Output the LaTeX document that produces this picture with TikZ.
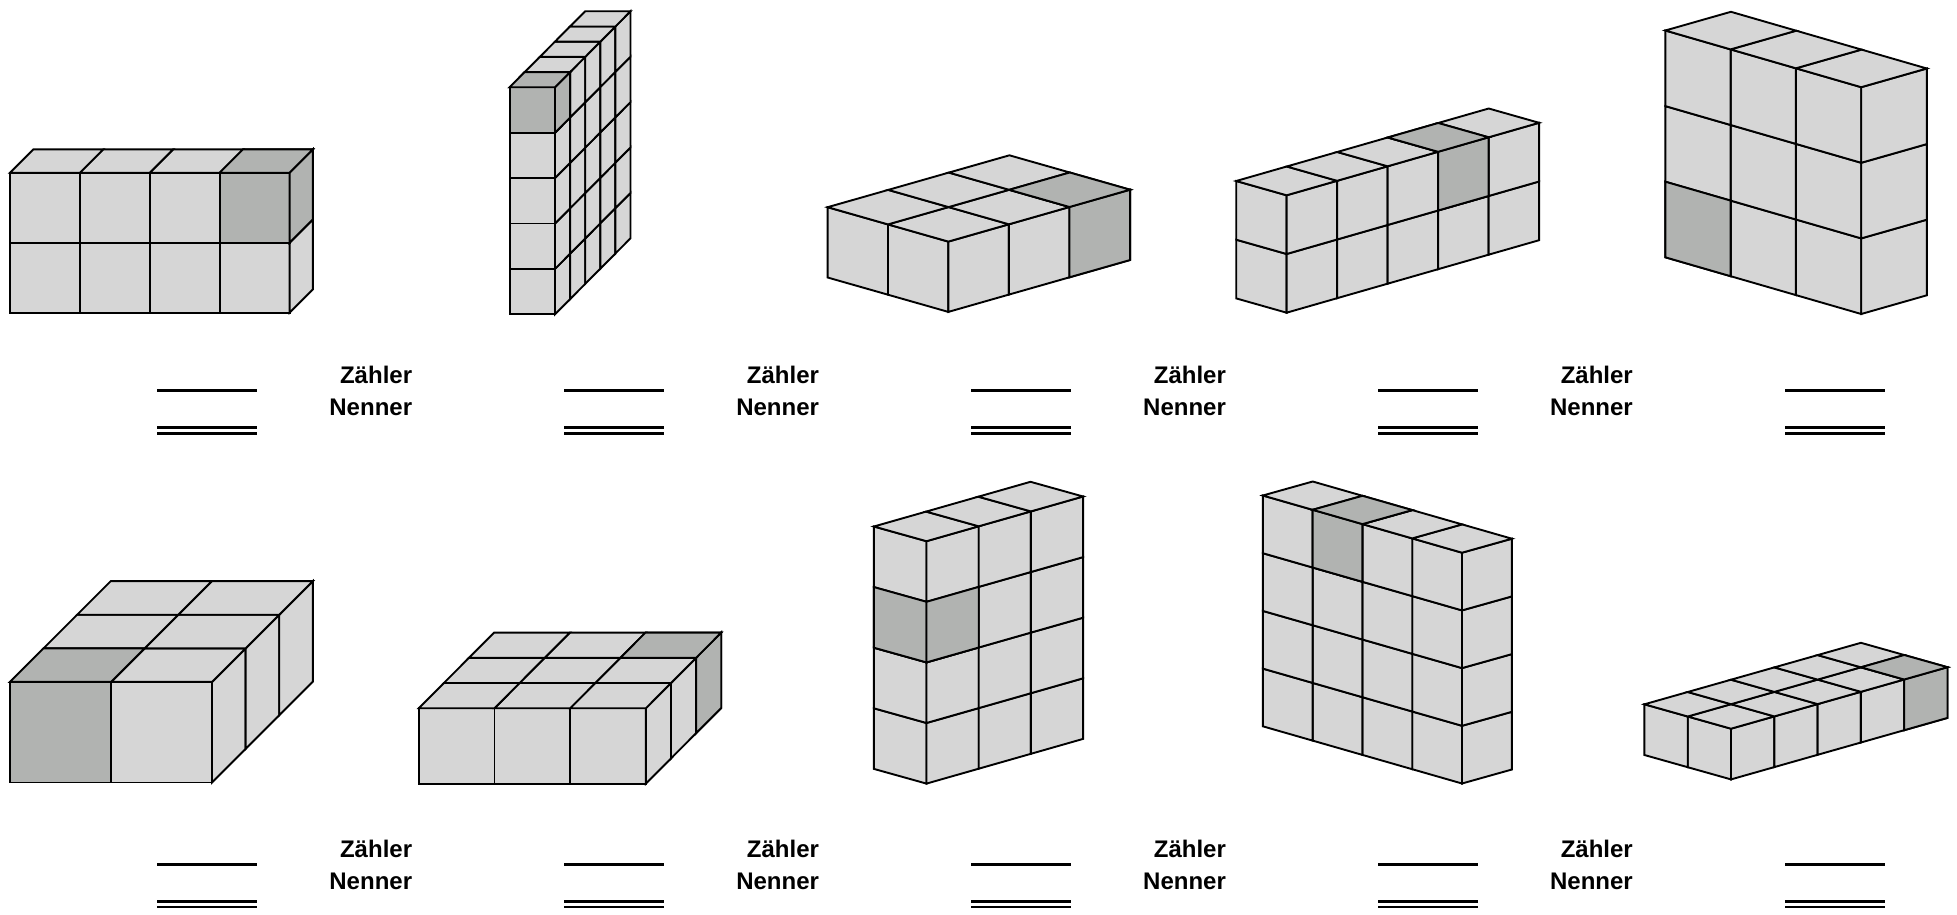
\documentclass[tikz,border=0pt]{standalone}
\usepackage{fontspec}
\setmainfont{Liberation Sans}
\usepackage{tikz}

\definecolor{celllight}{HTML}{D6D6D6}
\definecolor{celldark}{HTML}{B1B3B1}
\tikzset{
  cell/.style={draw=black, line width=1.9pt, fill=celllight},
  darkcell/.style={cell, fill=celldark},
  frac label/.style={anchor=base east, inner sep=0pt, font=\fontsize{24}{29}\selectfont\bfseries},
  answer line/.style={black, line width=2.8pt}
}

% #1 front corner, #2 #3 #4 edge vectors, #5 counts, #6 #7 #8 dark cells
\newcommand{\cuboid}[8]{
  \begin{scope}[shift={(#1)}, x={(#2)}, y={(#3)}, z={(0pt,#4)}]
    \foreach \na/\nb/\nh in {#5} {
      \foreach \i in {1,...,\na} \foreach \k in {1,...,\nh}
        \draw[cell] (\i-1,0,\k-1) -- (\i,0,\k-1) -- (\i,0,\k) -- (\i-1,0,\k) -- cycle;
      \foreach \j in {1,...,\nb} \foreach \k in {1,...,\nh}
        \draw[cell] (0,\j-1,\k-1) -- (0,\j,\k-1) -- (0,\j,\k) -- (0,\j-1,\k) -- cycle;
      \foreach \i in {1,...,\na} \foreach \j in {1,...,\nb}
        \draw[cell] (\i-1,\j-1,\nh) -- (\i,\j-1,\nh) -- (\i,\j,\nh) -- (\i-1,\j,\nh) -- cycle;
      % the marked cube
      \foreach \i/\k in {#6}
        \draw[darkcell] (\i-1,0,\k-1) -- (\i,0,\k-1) -- (\i,0,\k) -- (\i-1,0,\k) -- cycle;
      \foreach \j/\k in {#7}
        \draw[darkcell] (0,\j-1,\k-1) -- (0,\j,\k-1) -- (0,\j,\k) -- (0,\j-1,\k) -- cycle;
      \foreach \i/\j in {#8}
        \draw[darkcell] (\i-1,\j-1,\nh) -- (\i,\j-1,\nh) -- (\i,\j,\nh) -- (\i-1,\j,\nh) -- cycle;
    }
  \end{scope}
}

\begin{document}
\begin{tikzpicture}[x=1pt, y=-1pt]
  \useasboundingbox (0,0) rectangle (1957,915);

  % top row
  \cuboid{289.6,312.7}{-69.9pt,0pt}{23.3pt,23.3pt}{70pt}{4/1/2}{1/2}{1/2}{1/1}
  \cuboid{555,314.3}{-45.4pt,0pt}{15.1pt,15.2pt}{45.4pt}{1/5/5}{1/5}{1/5}{1/1}
  \cuboid{948.3,311.9}{-60.35pt,17.2pt}{60.6pt,17.3pt}{70.3pt}{2/3/1}{}{3/1}{1/3}
  \cuboid{1286.6,312.7}{-50.4pt,14.3pt}{50.5pt,14.5pt}{58.7pt}{1/5/2}{}{4/2}{1/4}
  \cuboid{1861.2,314}{-65.3pt,18.9pt}{65.6pt,18.7pt}{75.6pt}{3/1/3}{3/1}{}{}

  % bottom row
  \cuboid{212,782.5}{-101pt,0pt}{33.6pt,33.6pt}{100.6pt}{2/3/1}{2/1}{}{2/1}
  \cuboid{645.9,783.6}{-75.7pt,0pt}{25.1pt,25.2pt}{75.4pt}{3/3/1}{}{3/1}{1/3}
  \cuboid{926.5,783.6}{-52.6pt,14.7pt}{52.2pt,14.9pt}{60.6pt}{1/3/4}{1/3}{1/3}{}
  \cuboid{1462,783.5}{-49.8pt,14.3pt}{49.9pt,14pt}{57.7pt}{4/1/4}{3/4}{}{3/1}
  \cuboid{1731,779.4}{-43.3pt,12.2pt}{43.3pt,12.3pt}{50.7pt}{2/5/1}{}{5/1}{1/5}

  % fraction labels and answer lines
  \foreach \r in {0,1} {
    \foreach \c in {0,...,3} {
      \node[frac label] (zaehler\r\c) at (412.3+406.9*\c, 383.3+474.2*\r) {Zähler};
      \node[frac label] (nenner\r\c) at (412.3+406.9*\c, 415+474.2*\r) {Nenner};
    }
    \foreach \c in {0,...,4} {
      \draw[answer line] (157.4+406.9*\c, 390.7+473.5*\r) -- ++(99.7,0);
      \draw[answer line] (157.4+406.9*\c, 427.7+473.5*\r) -- ++(99.7,0);
      \draw[answer line] (157.4+406.9*\c, 433.5+473.5*\r) -- ++(99.7,0);
    }
  }
\end{tikzpicture}
\end{document}
